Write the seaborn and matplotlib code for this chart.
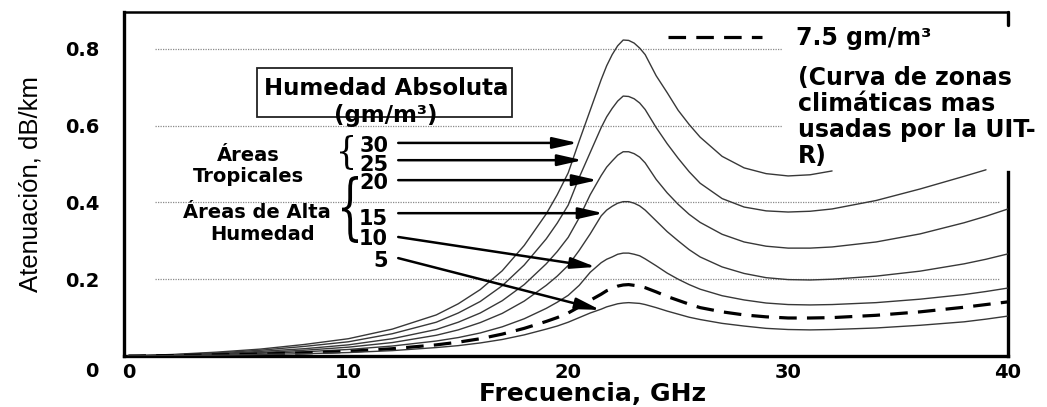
import numpy as np
import pandas as pd
import matplotlib
matplotlib.use("Agg")
import matplotlib.pyplot as plt
import seaborn as sns
from matplotlib.lines import Line2D
from matplotlib.patches import Rectangle, PathPatch
from matplotlib.textpath import TextPath
from matplotlib.font_manager import FontProperties
from matplotlib.transforms import Affine2D

nan = np.nan

# ---------------- data ----------------
freq = [0, 2, 4, 6, 8, 10, 12, 14, 15, 16, 17, 18, 19, 19.5, 20, 20.5, 21, 21.5, 21.75, 22,
        22.25, 22.5, 22.75, 23, 23.25, 23.5, 24, 24.5, 25, 25.5, 26, 27, 28, 29, 30, 31, 32,
        34, 36, 38, 39, 40]

hum_30 = [0, .004, .010, .018, .030, .045, .070, .107, .136, .173, .222, .288, .370, .420,
          .477, .560, .640, .720, .756, .785, .808, .823, .822, .815, .802, .785, .730, .686,
          .640, .603, .570, .520, .490, .475, .469, .472, .482, nan, nan, nan, nan, nan]
hum_25 = [0, .003, .008, .015, .025, .037, .058, .088, .112, .142, .183, .237, .305, .346,
          .393, .465, .530, .595, .623, .645, .664, .677, .676, .670, .659, .642, .595, .553,
          .515, .480, .450, .410, .388, .378, .375, .377, .383, .405, .435, .468, .485, nan]
hum_20 = [0, .003, .006, .012, .019, .029, .045, .069, .088, .112, .144, .186, .240, .272,
          .309, .360, .420, .470, .492, .508, .523, .532, .532, .527, .518, .503, .460, .425,
          .395, .369, .348, .317, .297, .286, .281, .281, .284, .297, .318, .347, .364, .383]
hum_15 = [0, .002, .005, .009, .015, .023, .035, .054, .068, .087, .111, .143, .184, .208,
          .236, .275, .318, .365, .380, .390, .398, .402, .402, .398, .391, .380, .352, .324,
          .300, .277, .258, .232, .215, .204, .199, .198, .200, .208, .221, .240, .252, .266]
hum_10 = [0, .001, .004, .007, .011, .017, .026, .039, .048, .060, .076, .097, .124, .140,
          .158, .184, .218, .243, .252, .258, .265, .268, .268, .265, .261, .253, .235, .216,
          .200, .186, .174, .157, .146, .138, .134, .133, .134, .139, .148, .160, .168, .177]
hum_7_5 = [0, .001, .003, .005, .008, .012, .019, .029, .036, .045, .057, .072, .090, .100,
           .112, .128, .145, .161, .170, .176, .182, .185, .186, .184, .182, .178, .167, .155,
           .145, .135, .126, .115, .107, .102, .099, .099, .100, .106, .115, .127, .134, .141]
hum_5 = [0, .001, .002, .004, .006, .009, .014, .022, .027, .034, .043, .055, .070, .078,
         .088, .100, .112, .122, .128, .132, .136, .138, .139, .138, .137, .134, .126, .117,
         .109, .101, .095, .085, .078, .072, .069, .068, .069, .073, .080, .089, .096, .104]

series_names = ["30", "25", "20", "15", "10", "7.5", "5"]
xtick_values = [0, 10, 20, 30, 40]
xtick_labels = ["0", "10", "20", "30", "40"]
ytick_values = [0, 0.2, 0.4, 0.6, 0.8]
ytick_labels = ["", "0.2", "0.4", "0.6", "0.8"]
yminor_values = [0.1, 0.3, 0.5, 0.7]
arrow_labels = ["30", "25", "20", "15", "10", "5"]

# ---------------- build long table ----------------
all_vals = [hum_30, hum_25, hum_20, hum_15, hum_10, hum_7_5, hum_5]
df = pd.DataFrame({
    "freq": np.tile(freq, len(series_names)),
    "att": np.concatenate(all_vals),
    "hum": np.repeat(series_names, len(freq)),
}).dropna()

sns.set_style("white")
plt.rcParams["font.family"] = ["DejaVu Sans"]
plt.rcParams["text.color"] = "black"
plt.rcParams["axes.labelcolor"] = "black"
plt.rcParams["xtick.color"] = "black"
plt.rcParams["ytick.color"] = "black"

W, H = 1047, 407
fig = plt.figure(figsize=(W / 100, H / 100), dpi=100)
ax = fig.add_axes([124 / W, (H - 356) / H, 884 / W, 344 / H])

palette = {n: "#383838" for n in series_names}
palette["7.5"] = "black"
sizes = {n: 1.0 for n in series_names}
sizes["7.5"] = 2.3
dashes = {n: "" for n in series_names}
dashes["7.5"] = (5.5, 3.2)

sns.lineplot(data=df, x="freq", y="att", hue="hum", size="hum", style="hum",
             palette=palette, sizes=sizes, dashes=dashes, legend=False,
             errorbar=None, sort=True, ax=ax, zorder=3)
for ln in ax.get_lines():
    ln.set_solid_joinstyle("round")

ax.set_xlim(-0.2, 40)
ax.set_ylim(0, 0.896)
ax.set_xlabel("")
ax.set_ylabel("")

# gridlines (dotted)
ax.hlines(ytick_values[3:], 1.2, 29.7, colors="#8a8a8a", linestyles=(0, (1, 1)), lw=0.9, zorder=1)
ax.hlines(ytick_values[1:3], 1.2, 39.6, colors="#8a8a8a", linestyles=(0, (1, 1)), lw=0.9, zorder=1)

# ticks
ax.set_xticks(xtick_values)
ax.set_xticklabels(xtick_labels)
ax.set_yticks(ytick_values)
ax.set_yticklabels(ytick_labels)
ax.set_yticks(yminor_values, minor=True)
ax.tick_params(axis="y", which="major", direction="in", length=21, width=2.4, pad=18,
               labelsize=14, colors="black")
ax.tick_params(axis="y", which="minor", direction="in", length=10, width=2.4)
ax.tick_params(axis="x", which="major", direction="in", length=8, width=1.2, pad=5,
               labelsize=14, colors="black")
for lab in ax.get_xticklabels() + ax.get_yticklabels():
    lab.set_fontweight("bold")
ax.xaxis.get_major_ticks()[0].tick1line.set_visible(False)
ax.text(-0.036, -0.044, "0", transform=ax.transAxes, ha="center", va="center",
        fontsize=14, fontweight="bold")

# spines
for s in ["left", "bottom", "right"]:
    ax.spines[s].set_linewidth(2.4)
    ax.spines[s].set_color("black")
ax.spines["top"].set_linewidth(1.8)
ax.spines["top"].set_color("black")
ax.spines["right"].set_bounds(0, 0.479)
ax.axvline(40, ymin=0.962, ymax=1.0, color="black", lw=2.4, clip_on=False)

# axis labels
ax.set_ylabel("Atenuación, dB/km", family="Liberation Sans", fontsize=18.5, color="black")
ax.yaxis.set_label_coords(-0.092, 0.5)
ax.set_xlabel("Frecuencia, GHz", fontsize=18, fontweight="bold", color="black")
ax.xaxis.set_label_coords(0.5305, -0.076)

# legend for the dashed curve
leg_handle = Line2D([], [], color="black", lw=2.3, linestyle=(0, (5.5, 3.2)))
leg = ax.legend(handles=[leg_handle], labels=["7.5 gm/m³"], loc="upper left",
                bbox_to_anchor=(0.615, 0.958), frameon=False, borderpad=0, borderaxespad=0,
                handlelength=4.0, handletextpad=1.45,
                prop=FontProperties(family="DejaVu Sans", weight="bold", size=17))
for t in leg.get_texts():
    t.set_color("black")
ax.text(0.7624, 0.843, "(Curva de zonas\nclimáticas mas\nusadas por la UIT-\nR)",
        transform=ax.transAxes, ha="left", va="top", fontsize=17, fontweight="bold",
        linespacing=1.1, clip_on=False)

# box title
ax.add_patch(Rectangle((5.85, 0.622), 11.61, 0.128, fill=False, ec="#222222", lw=1.3, zorder=2))
ax.text(11.72, 0.698, "Humedad Absoluta", ha="center", va="center", fontsize=16.5,
        fontweight="bold")
ax.text(11.72, 0.626, "(gm/m³)", ha="center", va="center", fontsize=16.5, fontweight="bold")

# region labels
ax.text(5.44, 0.523, "Áreas", ha="center", va="center", fontsize=14, fontweight="bold")
ax.text(5.44, 0.468, "Tropicales", ha="center", va="center", fontsize=14, fontweight="bold")
ax.text(5.85, 0.374, "Áreas de Alta", ha="center", va="center", fontsize=14, fontweight="bold")
ax.text(6.08, 0.317, "Humedad", ha="center", va="center", fontsize=14, fontweight="bold")

# number labels and arrows
num_y = [0.546, 0.497, 0.450, 0.356, 0.304, 0.248]
arrow_start_y = [0.555, 0.510, 0.458, 0.372, 0.310, 0.255]
arrow_tip = [(20.43, 0.555), (20.65, 0.510), (21.33, 0.458), (21.6, 0.372),
             (21.25, 0.232), (21.46, 0.120)]
for lab, ny, sy, tip in zip(arrow_labels, num_y, arrow_start_y, arrow_tip):
    ax.text(11.81, ny, lab, ha="right", va="center", fontsize=15, fontweight="bold")
    ax.annotate("", xy=tip, xytext=(12.27, sy),
                arrowprops=dict(arrowstyle="-|>,head_length=0.75,head_width=0.17",
                                color="black", lw=1.8, mutation_scale=20,
                                shrinkA=0, shrinkB=0), zorder=4)


# braces
def brace(x_px, y_top_px, w_px, h_px):
    tp = TextPath((0, 0), "{", size=1, prop=FontProperties(family="DejaVu Serif"))
    bb = tp.get_extents()
    tr = (Affine2D().translate(-bb.x0, -bb.y0)
          .scale(w_px / bb.width / 100, h_px / bb.height / 100)
          .translate(x_px / 100, (H - y_top_px - h_px) / 100) + fig.dpi_scale_trans)
    fig.add_artist(PathPatch(tp, transform=tr, fc="black", lw=0))


brace(340, 135, 13, 35)
brace(342, 176, 16, 67)

fig.savefig("out.png", dpi=100)
